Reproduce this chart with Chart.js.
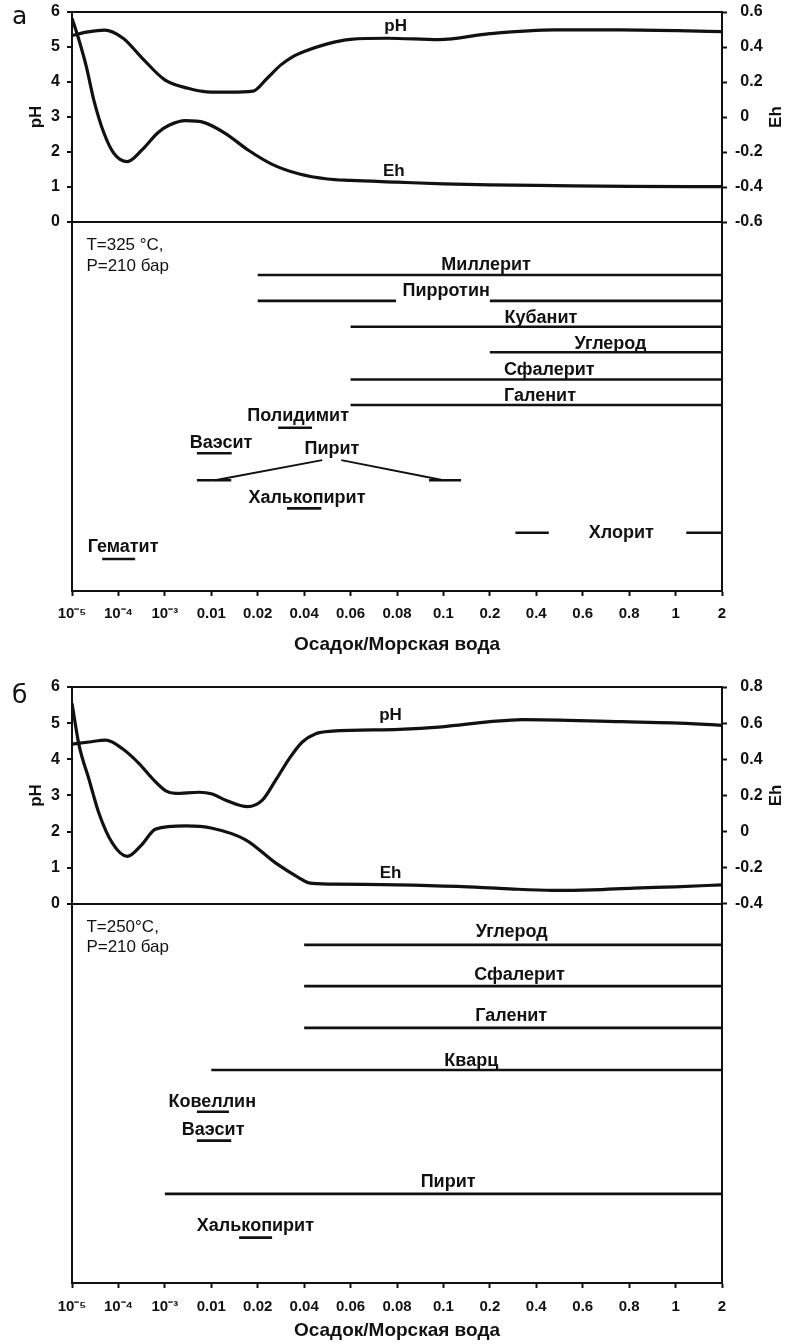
<!DOCTYPE html>
<html><head><meta charset="utf-8">
<script src="https://cdn.jsdelivr.net/npm/chart.js@4.4.1/dist/chart.umd.min.js"></script>
<style>
html,body{margin:0;padding:0;background:#fff;}
#wrap{position:relative;width:787px;height:1344px;overflow:hidden;}
canvas{position:absolute;left:0;}
#ca{top:0;} #cb{top:660px;}
</style></head><body>
<div id="wrap"><canvas id="ca" width="787" height="660"></canvas><canvas id="cb" width="787" height="684"></canvas></div>
<script>
// ---- shared x categories (equally spaced ticks) ----
const xTickLabels = ['10⁻⁵','10⁻⁴','10⁻³','0.01','0.02','0.04','0.06','0.08','0.1','0.2','0.4','0.6','0.8','1','2'];
const phTicks = [0,1,2,3,4,5,6];

// ---- panel а (T=325 °C) ----
const phA_x = [0, 0.35, 0.7, 1.1, 1.5, 2.0, 2.5, 2.9, 3.4, 3.9, 4.2, 4.5, 4.75, 5.0, 5.5, 6.0, 6.8, 7.9, 9.0, 10.4, 11.8, 14];
const phA_y = [5.33, 5.43, 5.48, 5.25, 4.7, 4.06, 3.82, 3.72, 3.71, 3.74, 4.1, 4.49, 4.72, 4.87, 5.09, 5.22, 5.25, 5.21, 5.38, 5.49, 5.49, 5.44];
const ehA_x = [0, 0.15, 0.31, 0.47, 0.69, 0.9, 1.19, 1.5, 1.85, 2.1, 2.45, 2.85, 3.3, 3.8, 4.3, 4.9, 5.5, 6.0, 7.0, 8.0, 9.0, 10.4, 12.0, 14.0];
const ehA_y = [0.565, 0.44, 0.287, 0.097, -0.093, -0.207, -0.255, -0.19, -0.09, -0.046, -0.021, -0.032, -0.093, -0.19, -0.269, -0.326, -0.354, -0.362, -0.372, -0.382, -0.388, -0.392, -0.396, -0.398];
const ehTicksA = [-0.6, -0.4, -0.2, 0, 0.2, 0.4, 0.6];
const mineralNamesA = ['Миллерит','Пирротин','Кубанит','Углерод','Сфалерит','Галенит','Полидимит','Ваэсит','Пирит','Халькопирит','Хлорит','Гематит'];
const mineralLabelXA = [8.92, 8.06, 10.1, 11.6, 10.28, 10.08, 4.87, 3.21, 5.6, 5.06, 11.83, 1.1];
const mineralLabelRowA = [1.65, 2.64, 3.68, 4.67, 5.67, 6.66, 7.43, 8.46, 8.7, 10.57, 11.92, 12.45];
// [x start, row start, x end, row end]
const segmentsA = [
  [4, 2.03, 14, 2.03],
  [4, 3.02, 6.98, 3.02], [9, 3.02, 14, 3.02],
  [6, 4.01, 14, 4.01],
  [9, 4.99, 14, 4.99],
  [6, 6.03, 14, 6.03],
  [6, 7.01, 14, 7.01],
  [4.44, 7.88, 5.17, 7.88],
  [2.69, 8.86, 3.44, 8.86],
  [2.69, 9.89, 3.43, 9.89], [3.08, 9.89, 5.39, 9.12], [5.8, 9.12, 8.0, 9.89], [7.69, 9.89, 8.38, 9.89],
  [4.63, 10.97, 5.37, 10.97],
  [9.55, 11.9, 10.27, 11.9], [13.23, 11.9, 14, 11.9],
  [0.65, 12.91, 1.36, 12.91]
];
const notesA = ['T=325 °C,', 'P=210 бар'];
const noteRowsA = [0.9, 1.68];

// ---- panel б (T=250 °C) ----
const phB_x = [0, 0.37, 0.73, 1.08, 1.44, 1.73, 2.02, 2.23, 2.74, 3.02, 3.31, 3.78, 4.1, 4.39, 4.68, 4.96, 5.25, 5.6, 7.05, 7.97, 9.0, 9.7, 11.85, 12.93, 14];
const phB_y = [4.42, 4.48, 4.53, 4.3, 3.89, 3.47, 3.13, 3.06, 3.09, 3.04, 2.87, 2.69, 2.87, 3.43, 4.02, 4.48, 4.71, 4.78, 4.83, 4.9, 5.04, 5.1, 5.04, 5.01, 4.94];
const ehB_x = [0, 0.15, 0.37, 0.58, 0.87, 1.19, 1.5, 1.8, 2.45, 3.02, 3.74, 4.39, 4.89, 5.1, 5.6, 7.0, 8.3, 9.3, 10.35, 11.2, 12.1, 13.0, 14];
const ehB_y = [0.71, 0.48, 0.286, 0.102, -0.064, -0.137, -0.073, 0.014, 0.032, 0.019, -0.045, -0.174, -0.255, -0.283, -0.29, -0.294, -0.303, -0.315, -0.325, -0.322, -0.312, -0.305, -0.294];
const ehTicksB = [-0.4, -0.2, 0, 0.2, 0.4, 0.6, 0.8];
const mineralNamesB = ['Углерод','Сфалерит','Галенит','Кварц','Ковеллин','Ваэсит','Пирит','Халькопирит'];
const mineralLabelXB = [9.47, 9.64, 9.46, 8.6, 3.02, 3.04, 8.1, 3.95];
const mineralLabelRowB = [0.68, 1.72, 2.71, 3.8, 4.79, 5.47, 6.73, 7.81];
const segmentsB = [
  [5, 0.99, 14, 0.99],
  [5, 1.99, 14, 1.99],
  [5, 3.0, 14, 3.0],
  [3, 4.02, 14, 4.02],
  [2.69, 5.03, 3.38, 5.03],
  [2.69, 5.73, 3.43, 5.73],
  [2, 7.02, 14, 7.02],
  [3.6, 8.08, 4.31, 8.08]
];
const notesB = ['T=250°C,', 'P=210 бар'];
const noteRowsB = [0.57, 1.05];

Chart.defaults.font.family = '"Liberation Sans", Arial, Helvetica, sans-serif';
Chart.defaults.color = '#111';
const INK = '#111';
const FAM = '"Liberation Sans", Arial, Helvetica, sans-serif';

function pts(xs, ys) { return xs.map((x, i) => ({x: x, y: ys[i]})); }

function makeTextPlugin(P) {
  return {
    id: 'texts' + P.id,
    afterDatasetsDraw(chart) {
      const {ctx, scales, chartArea} = chart;
      const xs = scales.x, ym = scales.ym, y = scales.y, y2 = scales.y2;
      ctx.save();
      ctx.fillStyle = INK;
      ctx.textBaseline = 'middle';
      ctx.textAlign = 'center';
      ctx.font = 'bold 18px ' + FAM;
      P.names.forEach((n, i) => ctx.fillText(n, xs.getPixelForValue(P.labelX[i]), ym.getPixelForValue(P.labelRow[i])));
      ctx.textAlign = 'left';
      ctx.font = '17px ' + FAM;
      P.notes.forEach((t, i) => ctx.fillText(t, xs.getPixelForValue(0.31), ym.getPixelForValue(P.noteRows[i])));
      ctx.textAlign = 'center';
      ctx.font = 'bold 17px ' + FAM;
      ctx.fillText('pH', xs.getPixelForValue(P.phLabel[0]), y.getPixelForValue(P.phLabel[1]));
      ctx.fillText('Eh', xs.getPixelForValue(P.ehLabel[0]), y2.getPixelForValue(P.ehLabel[1]));
      const midY = (y.getPixelForValue(0) + y.getPixelForValue(6)) / 2;
      ctx.save();
      ctx.translate(chartArea.left - 36, midY);
      ctx.rotate(-Math.PI / 2);
      ctx.fillText('pH', 0, 0);
      ctx.restore();
      ctx.save();
      ctx.translate(chartArea.right + 54, midY);
      ctx.rotate(-Math.PI / 2);
      ctx.fillText('Eh', 0, 0);
      ctx.restore();
      ctx.textAlign = 'left';
      ctx.textBaseline = 'alphabetic';
      ctx.font = '25px "DejaVu Sans", sans-serif';
      ctx.fillText(P.letter, 12, P.letterBase);
      ctx.restore();
    }
  };
}

function noPad(s) { s.paddingTop = 0; s.paddingBottom = 0; }

function buildChart(P) {
  const rowsPerPh = 1 / P.rowUnit;
  const ehPerPh = 0.2;
  const ehMin = P.ehMax - (6 - P.phFloor) * ehPerPh;
  const datasets = [
    {data: pts(P.phX, P.phY), yAxisID: 'y', borderColor: INK, borderWidth: 3.2, pointRadius: 0, cubicInterpolationMode: 'monotone', fill: false},
    {data: pts(P.ehX, P.ehY), yAxisID: 'y2', borderColor: INK, borderWidth: 3.2, pointRadius: 0, cubicInterpolationMode: 'monotone', fill: false}
  ];
  P.segments.forEach(s => datasets.push({
    data: [{x: s[0], y: s[1]}, {x: s[2], y: s[3]}], yAxisID: 'ym',
    borderColor: INK, borderWidth: s[1] === s[3] ? 2.6 : 2, pointRadius: 0, tension: 0, fill: false
  }));
  return new Chart(document.getElementById(P.canvas), {
    type: 'line',
    data: {datasets},
    options: {
      responsive: false, animation: false, events: [],
      layout: {padding: {top: P.padTop, left: 0, right: 0, bottom: 0}},
      plugins: {legend: {display: false}, tooltip: {enabled: false}},
      scales: {
        x: {
          type: 'linear', min: 0, max: 14,
          afterBuildTicks: s => { s.ticks = xTickLabels.map((_, i) => ({value: i})); },
          afterFit: s => { s.height = P.xHeight; s.paddingLeft = 0; s.paddingRight = 0; },
          ticks: {autoSkip: false, maxRotation: 0, padding: P.xTickPad, color: INK, font: {size: 15, weight: 'bold'}, callback: v => xTickLabels[v]},
          grid: {drawOnChartArea: false, drawTicks: true, tickLength: 5, tickColor: INK, tickWidth: 2},
          border: {display: true, color: INK, width: 2},
          title: {display: true, text: 'Осадок/Морская вода', color: INK, font: {size: 19, weight: 'bold'}, padding: {top: 0, bottom: P.titlePad}}
        },
        y: {
          type: 'linear', position: 'left', min: P.phFloor, max: 6,
          afterBuildTicks: s => { s.ticks = phTicks.map(v => ({value: v})); },
          afterFit: s => { s.width = 72; noPad(s); },
          ticks: {autoSkip: false, padding: 7, color: INK, font: {size: 16, weight: 'bold'}, callback: v => String(v)},
          grid: {drawOnChartArea: true, drawTicks: true, tickLength: 5, tickColor: INK, tickWidth: 2, lineWidth: 2,
                 color: c => (c.tick && (c.tick.value === 0 || c.tick.value === 6)) ? INK : 'rgba(0,0,0,0)'},
          border: {display: true, color: INK, width: 2}
        },
        y2: {
          type: 'linear', position: 'right', min: ehMin, max: P.ehMax,
          afterBuildTicks: s => { s.ticks = P.ehTicks.map(v => ({value: v})); },
          afterFit: s => { s.width = 65; noPad(s); },
          ticks: {autoSkip: false, padding: 8, color: INK, font: {size: 16, weight: 'bold'},
                  callback: v => Math.abs(v) < 1e-9 ? '\u20040' : (v < 0 ? v.toFixed(1) : '\u2004' + v.toFixed(1))},
          grid: {drawOnChartArea: false, drawTicks: true, tickLength: 5, tickColor: INK, tickWidth: 2},
          border: {display: true, color: INK, width: 2}
        },
        ym: {type: 'linear', display: false, min: -6 * rowsPerPh, max: -P.phFloor * rowsPerPh, reverse: true}
      }
    },
    plugins: [makeTextPlugin(P)]
  });
}

buildChart({
  id: 'A', canvas: 'ca', padTop: 12, xHeight: 69, xTickPad: 9, titlePad: 4,
  phFloor: -10.54, rowUnit: 26.1 / 35, ehMax: 0.6, ehTicks: ehTicksA,
  phX: phA_x, phY: phA_y, ehX: ehA_x, ehY: ehA_y,
  names: mineralNamesA, labelX: mineralLabelXA, labelRow: mineralLabelRowA, segments: segmentsA,
  notes: notesA, noteRows: noteRowsA, phLabel: [6.97, 5.6], ehLabel: [6.93, -0.309],
  letter: 'а', letterBase: 24
});
buildChart({
  id: 'B', canvas: 'cb', padTop: 27, xHeight: 61, xTickPad: 10, titlePad: 2,
  phFloor: -10.48, rowUnit: 41.3 / 36.17, ehMax: 0.8, ehTicks: ehTicksB,
  phX: phB_x, phY: phB_y, ehX: ehB_x, ehY: ehB_y,
  names: mineralNamesB, labelX: mineralLabelXB, labelRow: mineralLabelRowB, segments: segmentsB,
  notes: notesB, noteRows: noteRowsB, phLabel: [6.86, 5.23], ehLabel: [6.86, -0.229],
  letter: 'б', letterBase: 43
});
</script>
</body></html>
